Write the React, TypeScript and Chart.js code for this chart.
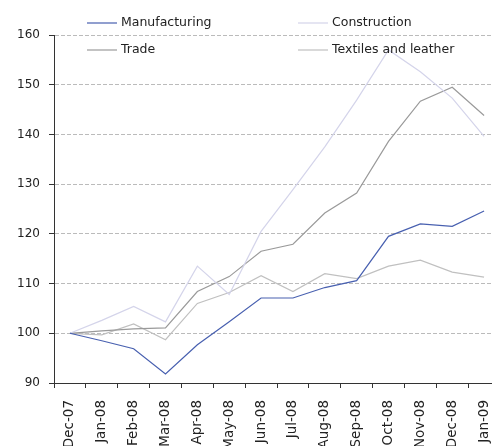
import React, { useEffect, useRef } from "react";
import { Chart, registerables } from "chart.js";

Chart.register(...registerables);

const categories = ["Dec-07", "Jan-08", "Feb-08", "Mar-08", "Apr-08", "May-08", "Jun-08", "Jul-08", "Aug-08", "Sep-08", "Oct-08", "Nov-08", "Dec-08", "Jan-09"];
const manufacturing = [100, 98.5, 96.9, 91.8, 97.7, 102.3, 107.1, 107.1, 109.2, 110.6, 119.5, 122.0, 121.5, 124.6];
const construction = [100, 102.6, 105.4, 102.3, 113.5, 107.8, 120.5, 128.9, 137.5, 146.9, 157.0, 152.6, 147.3, 139.6];
const trade = [100, 100.5, 100.9, 101.1, 108.4, 111.4, 116.5, 117.9, 124.2, 128.2, 138.6, 146.7, 149.5, 143.8];
const textiles = [100, 99.7, 101.9, 98.7, 106.0, 108.2, 111.6, 108.4, 112.0, 111.0, 113.5, 114.7, 112.3, 111.3];
const yTicks = [90, 100, 110, 120, 130, 140, 150, 160];

const FONT = "DejaVu Sans";

const legendPlugin = {
  id: "customLegend",
  afterDraw(chart: any) {
    const ctx = chart.ctx as CanvasRenderingContext2D;
    const ds = chart.data.datasets;
    const pos = [
      { x: 87, y: 23 },
      { x: 298, y: 23 },
      { x: 87, y: 50 },
      { x: 298, y: 50 },
    ];
    ctx.save();
    ctx.font = `12.5px "${FONT}"`;
    ctx.textBaseline = "middle";
    ds.forEach((d: any, i: number) => {
      const p = pos[i];
      ctx.strokeStyle = d.borderColor;
      ctx.lineWidth = 1.2;
      ctx.beginPath();
      ctx.moveTo(p.x, p.y);
      ctx.lineTo(p.x + 30, p.y);
      ctx.stroke();
      ctx.fillStyle = "#222";
      ctx.fillText(d.label, p.x + 34, p.y);
    });
    ctx.restore();
  },
};

export default function App() {
  const ref = useRef<HTMLCanvasElement>(null);
  useEffect(() => {
    const canvas = ref.current!;
    const mk = (label: string, data: number[], color: string) => ({
      label,
      data,
      borderColor: color,
      backgroundColor: color,
      borderWidth: 1.2,
      pointRadius: 0,
      tension: 0,
      fill: false,
    });
    const chart = new Chart(canvas, {
      type: "line",
      data: {
        labels: categories,
        datasets: [
          mk("Manufacturing", manufacturing, "#4860b0"),
          mk("Construction", construction, "#d4d4ea"),
          mk("Trade", trade, "#9a9a9a"),
          mk("Textiles and leather", textiles, "#c0c0c0"),
        ],
      },
      options: {
        responsive: false,
        animation: false,
        layout: { padding: { top: 35, right: 0, left: 0, bottom: 0 } },
        plugins: { legend: { display: false }, tooltip: { enabled: false } },
        scales: {
          x: {
            type: "category",
            offset: true,
            grid: {
              offset: true,
              drawOnChartArea: false,
              drawTicks: true,
              tickLength: 5,
              tickColor: "#333",
            },
            border: { color: "#333", width: 1 },
            ticks: {
              autoSkip: false,
              maxRotation: 90,
              minRotation: 90,
              padding: 12,
              color: "#222",
              font: { family: FONT, size: 13.5 },
            },
            afterFit(scale: any) {
              scale.height = 77;
              scale.paddingRight = 0;
              scale.paddingLeft = 0;
            },
          },
          y: {
            min: 90,
            max: 160,
            afterBuildTicks(scale: any) {
              scale.ticks = yTicks.map((v) => ({ value: v }));
            },
            grid: {
              color: "#bbbbbb",
              tickBorderDash: [],
              tickColor: "#333",
              tickLength: 5,
              drawTicks: true,
            } as any,
            border: { color: "#333", width: 1, dash: [4, 2] },
            ticks: {
              padding: 9,
              color: "#222",
              font: { family: FONT, size: 12 },
            },
            afterFit(scale: any) {
              scale.width = 54;
            },
          },
        },
      },
      plugins: [legendPlugin],
    });
    return () => chart.destroy();
  }, []);
  return (
    <div style={{ position: "fixed", left: 0, top: 0, width: 492, height: 446, overflow: "hidden", background: "#fff" }}>
      <canvas ref={ref} width={500} height={460} style={{ display: "block" }} />
    </div>
  );
}
